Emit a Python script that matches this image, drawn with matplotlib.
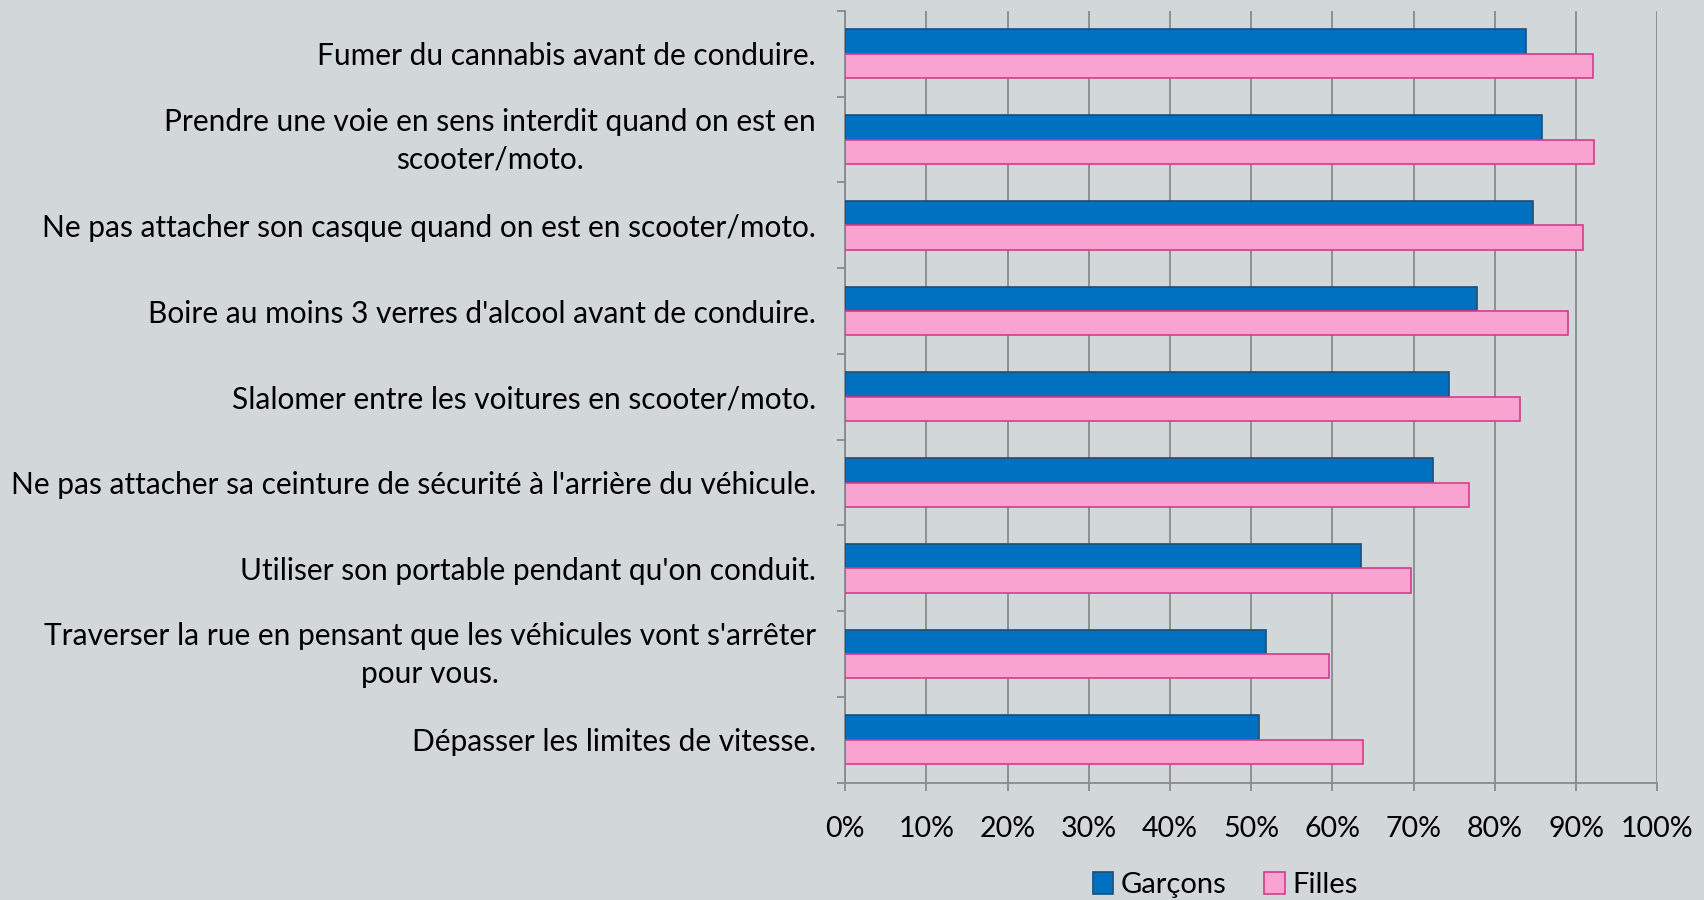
import matplotlib
matplotlib.use("Agg")
import matplotlib.pyplot as plt
import matplotlib.transforms as mtransforms
import numpy as np
from matplotlib.ticker import PercentFormatter

categories = [
    "Fumer du cannabis avant de conduire.",
    "Prendre une voie en sens interdit quand on est en\nscooter/moto.",
    "Ne pas attacher son casque quand on est en scooter/moto.",
    "Boire au moins 3 verres d'alcool avant de conduire.",
    "Slalomer entre les voitures en scooter/moto.",
    "Ne pas attacher sa ceinture de sécurité à l'arrière du véhicule.",
    "Utiliser son portable pendant qu'on conduit.",
    "Traverser la rue en pensant que les véhicules vont s'arrêter\npour vous.",
    "Dépasser les limites de vitesse.",
]
garcons = [83.8, 85.8, 84.7, 77.8, 74.3, 72.4, 63.5, 51.8, 51.0]
filles = [92.1, 92.2, 90.9, 89.0, 83.1, 76.8, 69.7, 59.6, 63.7]
series_names = ["Garçons", "Filles"]

bg = "#d2d7da"
grid_c = "#8a8a8a"
plt.rcParams['font.family'] = ['Lato', 'DejaVu Sans']

fig = plt.figure(figsize=(17.04, 9), dpi=100, facecolor=bg)
ax = fig.add_axes([0.496, 0.1304, 0.4766, 0.8575])
ax.set_facecolor(bg)

y = np.arange(len(categories))
h = 0.285
ax.barh(y - h / 2, garcons, height=h, color="#0070c0", edgecolor="#1f4e79",
        linewidth=1.2, label=series_names[0], zorder=3)
ax.barh(y + h / 2, filles, height=h, color="#f9a3d0", edgecolor="#d63c8c",
        linewidth=1.2, label=series_names[1], zorder=3)

ax.set_xlim(0, 100)
ax.set_ylim(len(categories) - 0.5, -0.5)
ax.set_xticks(np.arange(0, 101, 10))
ax.xaxis.set_major_formatter(PercentFormatter(decimals=0))
ax.xaxis.grid(True, color=grid_c, linewidth=1.3, zorder=0)

ax.set_yticks(y)
ax.set_yticklabels(categories, multialignment="center", linespacing=1.45)
ax.set_yticks(np.arange(-0.5, len(categories), 1), minor=True)
ax.tick_params(axis="y", which="major", length=0, pad=21, labelsize=21.5)
ax.tick_params(axis="y", which="minor", length=6, color=grid_c, width=1.3)
ax.tick_params(axis="x", length=6, color=grid_c, width=1.3, pad=18, labelsize=20.5)

# nudge the two-line labels up a bit
shift = mtransforms.ScaledTranslation(0, 0.065, fig.dpi_scale_trans)
for lbl in ax.get_yticklabels():
    if "\n" in lbl.get_text():
        lbl.set_transform(lbl.get_transform() + shift)

for s in ["top", "right"]:
    ax.spines[s].set_visible(False)
for s in ["left", "bottom"]:
    ax.spines[s].set_color(grid_c)
    ax.spines[s].set_linewidth(1.3)

fig.legend(loc="center", bbox_to_anchor=(0.719, 0.017), ncol=2, frameon=False,
           fontsize=21, handlelength=0.7, handleheight=0.8, handletextpad=0.25,
           columnspacing=1.3)

fig.savefig("out.png", dpi=100, facecolor=bg)
